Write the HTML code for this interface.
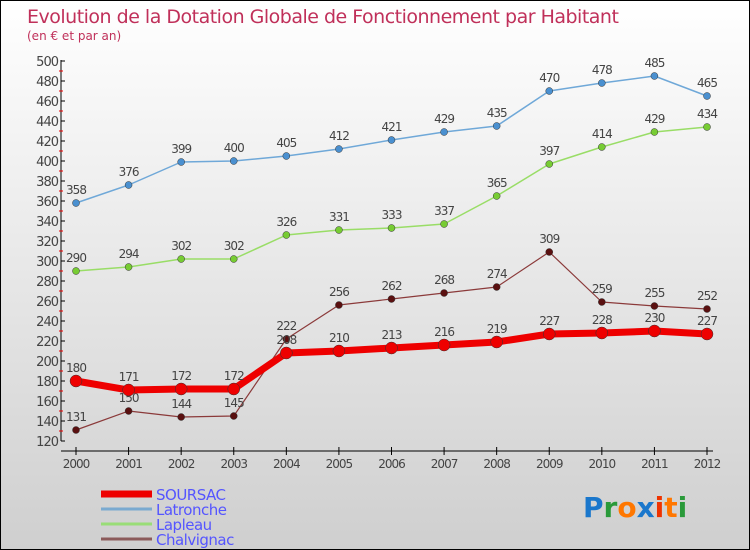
<!DOCTYPE html>
<html><head><meta charset="utf-8"><style>
body{margin:0}
#c{width:750px;height:550px;position:relative;overflow:hidden;box-sizing:border-box;border:1px solid #000;background:linear-gradient(#ffffff,#cfcfcf);font-family:"DejaVu Sans","Liberation Sans",sans-serif}
text{font-family:"DejaVu Sans","Liberation Sans",sans-serif}
</style></head><body>
<div id="c">
<svg id="s" width="750" height="550">
<text x="26" y="22" font-size="19" fill="#c0305a" style="letter-spacing:-0.5px">Evolution de la Dotation Globale de Fonctionnement par Habitant</text>
<text x="26" y="39" font-size="12" fill="#c0305a">(en € et par an)</text>
</svg>
</div>
<script>
const years=[2000,2001,2002,2003,2004,2005,2006,2007,2008,2009,2010,2011,2012];
const soursac=[180,171,172,172,208,210,213,216,219,227,228,230,227];
const latronche=[358,376,399,400,405,412,421,429,435,470,478,485,465];
const lapleau=[290,294,302,302,326,331,333,337,365,397,414,429,434];
const chalvignac=[131,150,144,145,222,256,262,268,274,309,259,255,252];
const yTicks=[120,140,160,180,200,220,240,260,280,300,320,340,360,380,400,420,440,460,480,500];
const NS='http://www.w3.org/2000/svg',svg=document.getElementById('s');
const X=i=>75+i*(706-75)/12, Y=v=>60+(500-v);
function el(t,a,p){const e=document.createElementNS(NS,t);for(const k in a)e.setAttribute(k,a[k]);(p||svg).appendChild(e);return e;}
const ax=el('g',{});


el('line',{x1:60,y1:59,x2:60,y2:440,stroke:'#000'},ax);
el('line',{x1:60,y1:450,x2:712,y2:450,stroke:'#000'},ax);
yTicks.forEach(v=>{
 el('line',{x1:60,y1:Y(v),x2:64,y2:Y(v),stroke:'#000'},ax);
 if(v<500)el('line',{x1:58,y1:Y(v+10),x2:62,y2:Y(v+10),stroke:'#e00'},ax);
 const t=el('text',{x:57,y:Y(v)+5,'font-size':13,fill:'#444','text-anchor':'end','letter-spacing':'-1'},ax);
 
 
 t.textContent=v;
});
years.forEach((y,i)=>{
 el('line',{x1:X(i),y1:446,x2:X(i),y2:454,stroke:'#000'},ax);
 const t=el('text',{x:X(i),y:467,'font-size':12,fill:'#444','text-anchor':'middle','letter-spacing':'-1'},ax);
 
 
 t.textContent=y;
});
function series(name,data,color,w,r,dot,lab){
 const g=el('g',{});
 
 
 el('polyline',{points:data.map((v,i)=>X(i)+','+Y(v)).join(' '),fill:'none',stroke:color,'stroke-width':w,'stroke-linejoin':'round'},g);
 data.forEach((v,i)=>{
  const c=el('circle',{cx:X(i),cy:Y(v),r:r,fill:dot,stroke:'#333','stroke-width':0.5},g);
  
  
  const t=el('text',{x:X(i),y:Y(v)-9,'font-size':12,fill:'#444','text-anchor':'middle','letter-spacing':'-1'},g);
  
  
  t.textContent=v;
 });
}
series('latronche',latronche,'#6fa8d8',1.5,3.5,'#4a90d0');
series('lapleau',lapleau,'#99dd66',1.5,3.5,'#77cc33');
series('chalvignac',chalvignac,'#8b3a3a',1.2,3.5,'#5a1010');
series('soursac',soursac,'#ee0000',7,6,'#ee0000');
const lg=el('g',{});


[['SOURSAC','#ee0000',7,493],['Latronche','#7aaad0',3,508],['Lapleau','#99dd77',3,523],['Chalvignac','#8b5a5a',3,538]].forEach(d=>{
 el('line',{x1:100,y1:d[3],x2:151,y2:d[3],stroke:d[1],'stroke-width':d[2]},lg);
 const t=el('text',{x:155,y:d[3]+6,'font-size':15,fill:'#5555ff','letter-spacing':'-0.5'},lg);
 
 
 t.textContent=d[0];
});
const lo=el('text',{x:582,y:516,'font-size':28,'font-weight':'bold'});


[['P','#1a77cc'],['r','#2a9a3a'],['o','#ff7700'],['x','#1a77cc'],['i','#ee3300'],['t','#ff7700'],['i','#2a9a3a']].forEach(d=>{const s=el('tspan',{fill:d[1]},lo);s.textContent=d[0];});
</script>
</body></html>
